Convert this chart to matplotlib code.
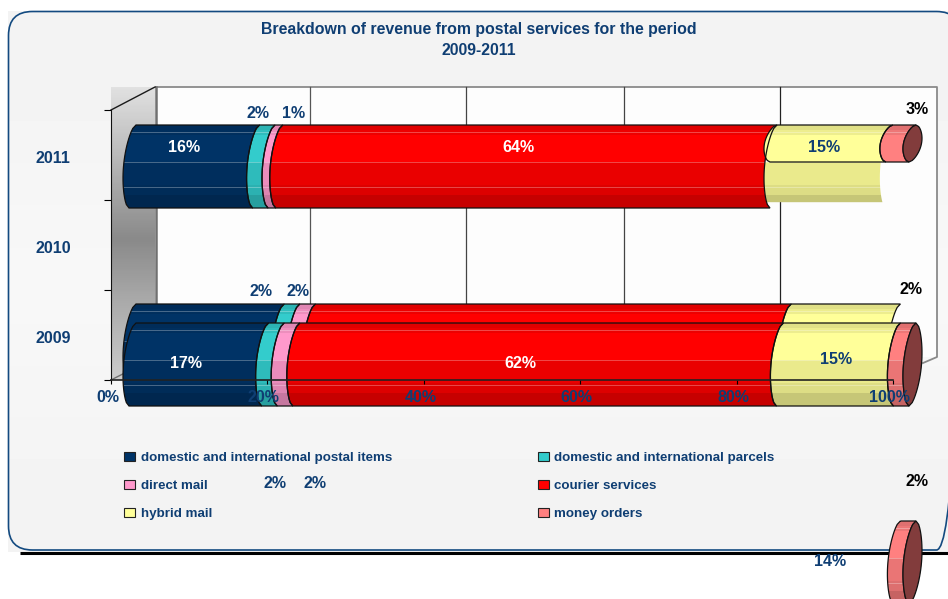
import numpy as np
import matplotlib
matplotlib.use("Agg")
import matplotlib.pyplot as plt
from matplotlib.patches import Polygon, FancyBboxPatch, Patch
from matplotlib.ticker import FixedLocator, FuncFormatter, NullFormatter
from matplotlib.transforms import ScaledTranslation

plt.rcParams["font.family"] = ["Liberation Sans", "DejaVu Sans"]
plt.rcParams["font.weight"] = "bold"

# ---- data -------------------------------------------------------------
title = "Breakdown of revenue from postal services for the period\n2009-2011"
years = ["2009", "2010", "2011"]
series_names = [
    "domestic and international postal items",
    "domestic and international parcels",
    "direct mail",
    "courier services",
    "hybrid mail",
    "money orders",
]
postal_items = [17, 19, 16]
parcels = [2, 2, 2]
direct_mail = [2, 2, 1]
courier = [62, 61, 64]
hybrid_mail = [15, 14, 15]
money_orders = [2, 2, 3]
x_ticks = [0, 20, 40, 60, 80, 100]

# ---- styles and layout --------------------------------------------------
series_colors = ["#003366", "#33cccc", "#ff99cc", "#ff0000", "#ffff99", "#ff8080"]
CAP_COLOR = "#823c3c"
NAVY = "#0f3e73"
W, H = 948, 599
X0_PX = 124.0          # pixel column of 0 % on the bars
PX_PER_PCT = 7.8
Y0_PX = 364.5          # pixel row of the first category
SLOT_PX = 99.0
BAR_PX = 83.0
SHORT_PX = 37.0        # height of the truncated 2011 segments

fig = plt.figure(figsize=(W / 100, H / 100), dpi=100, facecolor="white")


def axes_px(left, top, right, bottom, **kw):
    return fig.add_axes(
        [left / W, 1 - bottom / H, (right - left) / W, (bottom - top) / H], **kw
    )


# ---- panel, walls and gridlines, in pixel space --------------------------
bg = axes_px(0, 0, W, H, zorder=0)
bg.set_xlim(0, W)
bg.set_ylim(H, 0)
bg.axis("off")

panel = np.interp(np.linspace(0, 1, 64), [0, 0.15, 0.5, 1], [0.95, 0.955, 0.972, 0.95])
bg.imshow(panel[:, None], cmap="gray", vmin=0, vmax=1, extent=(8, W, 552, 11),
          aspect="auto", zorder=0)
bg.plot([20, W], [553, 553], color="black", lw=2.2, zorder=1, solid_capstyle="butt")
bg.add_patch(FancyBboxPatch((8.5, 11.5), 952, 538.5,
                            boxstyle="round,pad=0,rounding_size=24",
                            fc="none", ec="#134a80", lw=1.2, zorder=2))

# back wall
bg.add_patch(Polygon([(156, 87), (937, 87), (937, 357), (156, 357)],
                     closed=True, fc="#fdfdfd", ec="none", zorder=3))
bg.plot([156, 937, 937, 923], [87, 87, 357, 363], color="#8a8a8a", lw=1.3, zorder=4)
for gx, gc in zip([310, 466, 624, 780], ["#555555", "#444444", "#444444", "#222222"]):
    bg.plot([gx, gx], [87, 357], color=gc, lw=0.9, zorder=4)

# side wall
wall = np.interp(np.linspace(0, 1, 128), [0, 0.52, 0.72, 1], [0.88, 0.54, 0.66, 0.8])
bg.imshow(wall[:, None], cmap="gray", vmin=0, vmax=1, extent=(111, 155, 380, 87),
          aspect="auto", zorder=4)
bg.plot([156, 156], [87, 357], color="#707070", lw=1.8, zorder=5)
bg.plot([111, 155], [110, 87], color="#1a1a1a", lw=1.0, zorder=5)
bg.plot([111, 156], [380, 357], color="#707070", lw=1.0, zorder=5)
bg.set_xlim(0, W)
bg.set_ylim(H, 0)

# ---- stacked bars on their own percent / category scales -----------------
ax = axes_px(0, 0, W, H, zorder=1)
ax.patch.set_alpha(0)
ax.axis("off")
ax.set_autoscale_on(False)
ax.set_xlim(-X0_PX / PX_PER_PCT, (W - X0_PX) / PX_PER_PCT)
ax.set_ylim((Y0_PX - H) / SLOT_PX, Y0_PX / SLOT_PX)


def shear(t):
    return 5 + 7 * (1 - t)


def bulge(t):
    return 9 * np.sin(np.pi * t) ** 0.55


def edge(pct, y_top, t, height_px, sign=-1):
    """Points of one cylinder ring in data units, for ring fractions t."""
    px = shear(t) + sign * bulge(t)
    return np.column_stack([pct + px / PX_PER_PCT, y_top - t * height_px / SLOT_PX])


def shaded(color):
    rgb = np.array(matplotlib.colors.to_rgb(color))
    t = np.linspace(0, 1, 83)
    k = np.select([t < 0.05, t < 0.12, t < 0.45, t < 0.72, t < 0.85],
                  [0.88, 0.93, 1.0, 0.92, 0.87], 0.78)
    img = k[:, None] * rgb
    for line in (7, 37, 62):
        img[line] = img[line] * 0.72 + 0.28
    return img[:, None, :]


def fill_band(pct0, pct1, y, color, t0=0.0, t1=1.0, height_px=BAR_PX, outline=True,
              zorder=2, dy=0.0):
    """One stacked segment: gradient clipped by the outline of a cylinder piece."""
    t = np.linspace(t0, t1, 25)
    yc = y + dy
    y_top = yc + BAR_PX / SLOT_PX / 2
    poly = np.vstack([edge(pct0, y_top, t, height_px), edge(pct1, y_top, t[::-1], height_px)])
    patch = Polygon(poly, closed=True, fc="none",
                    ec="#111111" if outline else "none", lw=0.9, zorder=zorder + 0.5)
    ax.add_patch(patch)
    im = ax.imshow(shaded(color),
                   extent=(pct0 - 3, pct1 + 4, y_top - BAR_PX / SLOT_PX, y_top),
                   aspect="auto", interpolation="nearest", zorder=zorder)
    im.set_clip_path(patch)


def draw_cap(pct, y, height_px=BAR_PX, zorder=2, dy=0.0):
    t = np.linspace(0, 1, 25)
    y_top = y + dy + BAR_PX / SLOT_PX / 2
    poly = np.vstack([edge(pct, y_top, t, height_px),
                      edge(pct, y_top, t[::-1], height_px, sign=1)])
    ax.add_patch(Polygon(poly, closed=True, fc=CAP_COLOR, ec="#111111", lw=0.9,
                         zorder=zorder + 0.6))


table = np.array([postal_items, parcels, direct_mail, courier, hybrid_mail, money_orders],
                 dtype=float)
shares = table / table.sum(axis=0) * 100
stops = np.vstack([np.zeros(3), np.cumsum(shares, axis=0)])

SHIFT_2010 = -80 / SLOT_PX             # 2010 stack sits lower on the category axis
SHIFT_2010_END = -297 / SLOT_PX        # its last segment is pushed below the panel

# 2010 first, so that 2009 overlaps it
i = 1
for s in range(5):
    fill_band(stops[s, i], stops[s + 1, i], i, series_colors[s], dy=SHIFT_2010, zorder=2)
fill_band(stops[5, i], stops[6, i], i, series_colors[5], dy=SHIFT_2010_END, zorder=5)
draw_cap(stops[6, i], i, dy=SHIFT_2010_END, zorder=5)

# 2009
i = 0
for s in range(6):
    fill_band(stops[s, i], stops[s + 1, i], i, series_colors[s], zorder=3)
draw_cap(stops[6, i], i, zorder=3)

# 2011: the last two segments break off half way down
i = 2
for s in range(4):
    fill_band(stops[s, i], stops[s + 1, i], i, series_colors[s], zorder=3)
fill_band(stops[4, i], stops[5, i], i, series_colors[4], t0=SHORT_PX / BAR_PX, t1=0.93,
          outline=False, zorder=3)
fill_band(stops[4, i], stops[5, i], i, series_colors[4], height_px=SHORT_PX, zorder=3.2)
fill_band(stops[5, i], stops[6, i], i, series_colors[5], height_px=SHORT_PX, zorder=3.2)
draw_cap(stops[6, i], i, height_px=SHORT_PX, zorder=3.2)
ax.set_xlim(-X0_PX / PX_PER_PCT, (W - X0_PX) / PX_PER_PCT)
ax.set_ylim((Y0_PX - H) / SLOT_PX, Y0_PX / SLOT_PX)

# ---- front axes: floor line, percent ticks and category ticks ------------
front = axes_px(111, 110, 893, 380, zorder=2)
front.patch.set_alpha(0)
front.set_xlim(0, 100)
front.set_ylim(0, 3)
for side in ("top", "right"):
    front.spines[side].set_visible(False)
front.spines["bottom"].set_color("#222222")
front.spines["bottom"].set_linewidth(1.2)
front.spines["left"].set_color("#111111")
front.xaxis.set_major_locator(FixedLocator(x_ticks))
front.xaxis.set_major_formatter(FuncFormatter(lambda v, _: f"{v:.0f}%"))
front.tick_params(axis="x", length=3, width=0.8, pad=4.5, labelsize=11.5, labelcolor=NAVY)
front.yaxis.set_major_locator(FixedLocator([0, 1, 2, 3]))
front.yaxis.set_major_formatter(NullFormatter())
front.yaxis.set_minor_locator(FixedLocator([0.5, 1.5, 2.5]))
front.yaxis.set_minor_formatter(FuncFormatter(lambda v, _: years[int(v)]))
front.tick_params(axis="y", which="major", length=5, width=0.8)
front.tick_params(axis="y", which="minor", length=0, pad=29, labelsize=11.5, labelcolor=NAVY)
nudge_x = ScaledTranslation(-3.5 / 100, 0, fig.dpi_scale_trans)
for lab in front.get_xticklabels():
    lab.set_transform(lab.get_transform() + nudge_x)
nudge_y = ScaledTranslation(0, -2 / 100, fig.dpi_scale_trans)
for lab in front.yaxis.get_minorticklabels():
    lab.set_transform(lab.get_transform() + nudge_y)

# ---- text overlay ---------------------------------------------------------
top = axes_px(0, 0, W, H, zorder=3)
top.patch.set_alpha(0)
top.axis("off")
top.set_xlim(0, W)
top.set_ylim(H, 0)
top.text(479, 40, title, ha="center", va="center", fontsize=11.45, color=NAVY,
         linespacing=1.45)

# value label spots: (series index, year index, x, y, colour)
label_spots = [
    (0, 2, 184, 148, "white"), (1, 2, 258, 113, NAVY), (2, 2, 294, 113, NAVY),
    (3, 2, 518, 148, "white"), (4, 2, 824, 148, NAVY), (5, 2, 917, 110, "black"),
    (1, 1, 261, 291, NAVY), (2, 1, 298, 291, NAVY), (5, 1, 911, 289, "black"),
    (4, 1, 830, 561, NAVY),
    (0, 0, 186, 363, "white"), (1, 0, 275, 484, NAVY), (2, 0, 315, 484, NAVY),
    (3, 0, 520, 363, "white"), (4, 0, 836, 359, NAVY), (5, 0, 917, 481, "black"),
]
for s, i, lx, ly, lc in label_spots:
    top.text(lx, ly, f"{table[s, i]:.0f}%", ha="center", va="center", fontsize=11.5, color=lc)

order = [0, 2, 4, 1, 3, 5]
handles = [Patch(fc=series_colors[s], ec="#222222", lw=0.8, label=series_names[s]) for s in order]
top.legend(handles=handles, ncol=2, frameon=False, loc="upper left",
           bbox_to_anchor=(124 / W, 1 - 452 / H), borderpad=0, borderaxespad=0,
           fontsize=9.6, labelcolor=NAVY, handlelength=0.85, handleheight=0.6,
           handletextpad=0.42, labelspacing=1.2, columnspacing=10.9)

fig.savefig("out.png", dpi=100, facecolor="white")
